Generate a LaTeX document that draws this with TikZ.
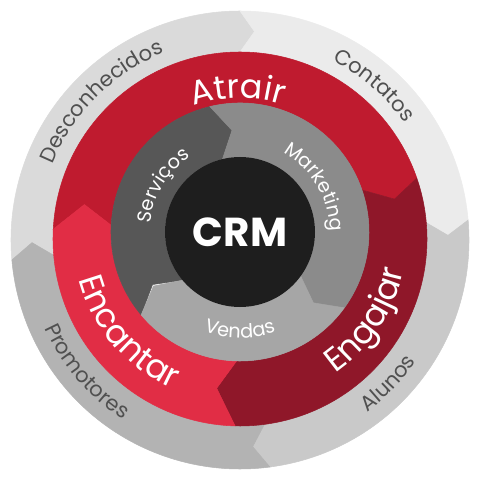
\documentclass[tikz,border=0pt]{standalone}
\usepackage{fontspec}
\setmainfont{Poppins}
\usetikzlibrary{decorations.text}

\definecolor{desconhecidos}{HTML}{DADADA}
\definecolor{contatos}{HTML}{EBEBEB}
\definecolor{alunos}{HTML}{C9C9C9}
\definecolor{promotores}{HTML}{B3B3B3}
\definecolor{atrair}{HTML}{BF1B2F}
\definecolor{engajar}{HTML}{8F1729}
\definecolor{encantar}{HTML}{E12D45}
\definecolor{servicos}{HTML}{575757}
\definecolor{marketing}{HTML}{8B8B8B}
\definecolor{vendas}{HTML}{A6A6A6}
\definecolor{crmblack}{HTML}{1E1E1E}
\definecolor{labelgray}{HTML}{505050}

% ring geometry: outer centre, outer radius, inner centre, inner radius
\newcommand\setring[4]{\def\ringoc{#1}\def\ringor{#2}\def\ringic{#3}\def\ringir{#4}}
% one arrow shaped part of a ring: style, from angle, to angle, tip
\newcommand\ringseg[4]{%
  \fill[#1] ([shift={(#2:\ringor)}]\ringoc) arc[start angle=#2, end angle=#3, radius=\ringor]
    -- ([shift={(#3-#4:{(\ringor+\ringir)/2})}]\ringic)
    -- ([shift={(#3:\ringir)}]\ringic) arc[start angle=#3, end angle=#2, radius=\ringir]
    -- ([shift={(#2-#4:{(\ringor+\ringir)/2})}]\ringic) -- cycle;}

\begin{document}
\begin{tikzpicture}[x=0.02cm, y=0.02cm]
\tikzset{
   part/.style = {fill = #1, draw = #1, line width = 0.3pt},
   ringtext/.style = {decorate, decoration = {text along path, text align = center}},
   outer_label/.style = {ringtext, decoration = {text = {|\fontsize{12}{12}\selectfont|#1}, text color = labelgray}},
   phase_label/.style = {ringtext, decoration = {text = {|\fontsize{19}{19}\selectfont|#1}, text color = white}},
   inner_label/.style = {ringtext, decoration = {text = {|\fontsize{11}{11}\selectfont|#1}, text color = white}}
 }
  \useasboundingbox (-240,-240) rectangle (240,240);
  \coordinate (c0) at (0,0);
  \coordinate (c1) at (0,1);
  \coordinate (c4) at (0,4);
  \coordinate (c8) at (0,8);

  % outer ring
  \setring{c0}{229}{c1}{187}
  \ringseg{part=desconhecidos}{185}{90}{4}
  \ringseg{part=contatos}{90}{5}{4}
  \ringseg{part=alunos}{5}{-82.5}{4}
  \ringseg{part=promotores}{-82.5}{-175}{4}

  % red ring
  \setring{c1}{187}{c8}{129}
  \ringseg{part=atrair}{177}{19}{7}
  \ringseg{part=engajar}{19}{-91.5}{7}
  \ringseg{part=encantar}{-91.5}{-183}{7}

  % grey ring
  \setring{c8}{129}{c8}{75}
  \ringseg{part=servicos}{220}{103.5}{9}
  \ringseg{part=marketing}{103.5}{-36}{9}
  \ringseg{part=vendas}{-36}{-140}{8}

  \fill[crmblack] (c8) circle[radius=75];
  \node[text = white, font = \fontsize{23}{23}\selectfont\bfseries] (crm) at (c8) {CRM};

  \path[outer_label = Desconhecidos] (c0) ++(180:202) arc[start angle=180, end angle=90, radius=202];
  \path[outer_label = Contatos] (c0) ++(94:202) arc[start angle=94, end angle=4, radius=202];
  \path[outer_label = Alunos] (c0) ++(-89:214) arc[start angle=-89, end angle=1, radius=214];
  \path[outer_label = Promotores] (c0) ++(175.6:214) arc[start angle=175.6, end angle=265.6, radius=214];

  \path[phase_label = Atrair] (c4) ++(136:138) arc[start angle=136, end angle=46, radius=138];
  \path[phase_label = Engajar] (c4) ++(-78.5:167) arc[start angle=-78.5, end angle=11.5, radius=167];
  \path[phase_label = Encantar] (c4) ++(175.6:167) arc[start angle=175.6, end angle=265.6, radius=167];

  \path[inner_label = Serviços] (c8) ++(194:90) arc[start angle=194, end angle=104, radius=90];
  \path[inner_label = Marketing] (c8) ++(76:90) arc[start angle=76, end angle=-14, radius=90];
  \path[inner_label = Vendas] (c8) ++(-135:106) arc[start angle=-135, end angle=-45, radius=106];
\end{tikzpicture}
\end{document}
